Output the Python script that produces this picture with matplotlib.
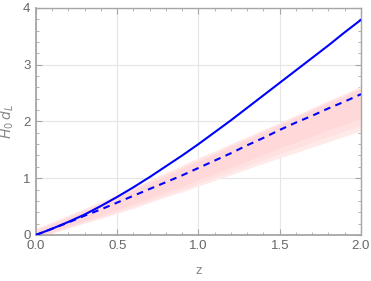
import matplotlib
matplotlib.use("Agg")
import matplotlib.pyplot as plt
from matplotlib.ticker import MultipleLocator
import numpy as np

z = [0.0, 0.1, 0.2, 0.3, 0.4, 0.5, 0.6, 0.7, 0.8, 0.9, 1.0,
     1.1, 1.2, 1.3, 1.4, 1.5, 1.6, 1.7, 1.8, 1.9, 2.0]
solid_dl = [0.0, 0.11, 0.23, 0.36, 0.51, 0.67, 0.84, 1.02, 1.21, 1.40, 1.60,
            1.81, 2.02, 2.24, 2.46, 2.68, 2.90, 3.12, 3.34, 3.57, 3.79]
dashed_dl = [0.0, 0.11, 0.22, 0.34, 0.45, 0.57, 0.69, 0.81, 0.93, 1.05, 1.18,
             1.31, 1.44, 1.58, 1.71, 1.85, 1.98, 2.10, 2.23, 2.35, 2.48]
band_lo = [-0.05, 0.03, 0.12, 0.21, 0.29, 0.38, 0.47, 0.57, 0.67, 0.76, 0.86,
           0.96, 1.06, 1.16, 1.26, 1.36, 1.45, 1.55, 1.64, 1.74, 1.83]
band_hi = [0.12, 0.23, 0.35, 0.47, 0.59, 0.72, 0.84, 0.97, 1.10, 1.23, 1.36,
           1.48, 1.61, 1.73, 1.86, 1.98, 2.11, 2.24, 2.37, 2.49, 2.62]

plt.rcParams['font.family'] = ['Liberation Sans', 'DejaVu Sans']

fig = plt.figure(figsize=(3.71, 2.81), dpi=100)
ax = fig.add_axes([0.097, 0.164, 0.876, 0.808])

zz = np.array(z)
lo = np.array(band_lo)
hi = np.array(band_hi)
mid = np.array(dashed_dl)
# soft-edged band: nested layers of deepening pink
for f, c in [(1.0, '#ffeaea'), (0.85, '#ffe1e1'), (0.65, '#ffd9d9')]:
    ax.fill_between(zz, mid - (mid - lo) * f, mid + (hi - mid) * f,
                    color=c, linewidth=0, zorder=1)

ax.plot(z, solid_dl, color='#0000ff', lw=1.5, zorder=3)
ax.plot(z, dashed_dl, color='#0000ff', lw=1.5, dashes=(3.2, 2.6), zorder=3)

ax.set_xlim(0, 2)
ax.set_ylim(0, 4)
ax.xaxis.set_major_locator(MultipleLocator(0.5))
ax.xaxis.set_minor_locator(MultipleLocator(0.1))
ax.yaxis.set_major_locator(MultipleLocator(1))
ax.yaxis.set_minor_locator(MultipleLocator(0.2))
ax.xaxis.set_major_formatter(plt.FuncFormatter(lambda v, p: f"{v:.1f}"))
ax.yaxis.set_major_formatter(plt.FuncFormatter(lambda v, p: f"{v:.0f}"))

ax.grid(True, which='major', color='#e6e6e6', lw=0.8, zorder=0)
ax.set_axisbelow(True)
for s in ax.spines.values():
    s.set_color('#a6a6a6')
    s.set_linewidth(1.0)
ax.spines['left'].set_linewidth(1.3)
ax.spines['bottom'].set_linewidth(1.3)
ax.tick_params(which='both', direction='in', top=True, right=True,
               color='#a6a6a6', labelcolor='#666666', labelsize=9.5)
ax.tick_params(which='major', length=4, width=0.8)
ax.tick_params(which='minor', length=2.2, width=0.6)
ax.tick_params(axis='x', which='major', pad=4)
ax.tick_params(axis='y', which='major', pad=4)

ax.set_xlabel('z', color='#888888', fontsize=9.5, labelpad=9)
ax.set_ylabel(r'$H_0\,d_L$', color='#888888', fontsize=10, labelpad=5)

fig.savefig('out.png', dpi=100)
